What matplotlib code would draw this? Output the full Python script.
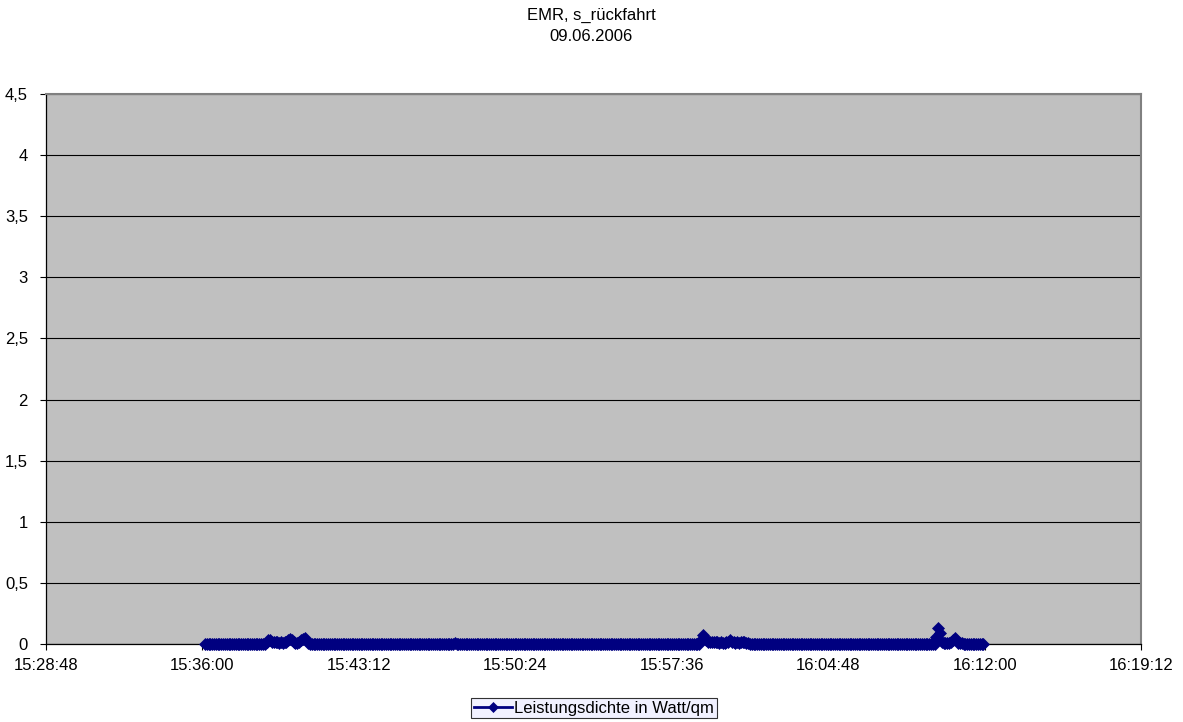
import numpy as np
import matplotlib
matplotlib.use("Agg")
import matplotlib.pyplot as plt
from matplotlib.ticker import FuncFormatter

plt.rcParams['font.family'] = ['Liberation Sans', 'DejaVu Sans']

# readings every 5 s, starting 15:36:07 (one row = one minute)
start_time = "15:36:07"
step_s = 5
leistung = [
    0, 0, 0, 0, 0, 0, 0, 0, 0, 0, 0, 0,                                      # 15:36
    0, 0, 0, 0, 0, 0, 0, 0, 0, 0, 0, 0,                                      # 15:37
    0, 0, 0, 0, 0, 0, 0, 0, 0, 0, 0.02, 0.03,                                # 15:38
    0.03, 0.02, 0.02, 0.02, 0.015, 0.01, 0.015, 0.01, 0.02, 0.02, 0.03, 0.04,  # 15:39
    0.03, 0.02, 0.01, 0.01, 0.02, 0.03, 0.04, 0.05, 0.03, 0.01, 0, 0,        # 15:40
    0, 0, 0, 0, 0, 0, 0, 0, 0, 0, 0, 0,                                      # 15:41
    0, 0, 0, 0, 0, 0, 0, 0, 0, 0, 0, 0,                                      # 15:42
    0, 0, 0, 0, 0, 0, 0, 0, 0, 0, 0, 0,                                      # 15:43
    0, 0, 0, 0, 0, 0, 0, 0, 0, 0, 0, 0,                                      # 15:44
    0, 0, 0, 0, 0, 0, 0, 0, 0, 0, 0, 0,                                      # 15:45
    0, 0, 0, 0, 0, 0, 0, 0, 0, 0, 0, 0,                                      # 15:46
    0, 0, 0, 0, 0, 0, 0.005, 0, 0, 0, 0, 0,                                  # 15:47
    0, 0, 0, 0, 0, 0, 0, 0, 0, 0, 0, 0,                                      # 15:48
    0, 0, 0, 0, 0, 0, 0, 0, 0, 0, 0, 0,                                      # 15:49
    0, 0, 0, 0, 0, 0, 0, 0, 0, 0, 0, 0,                                      # 15:50
    0, 0, 0, 0, 0, 0, 0, 0, 0, 0, 0, 0,                                      # 15:51
    0, 0, 0, 0, 0, 0, 0, 0, 0, 0, 0, 0,                                      # 15:52
    0, 0, 0, 0, 0, 0, 0, 0, 0, 0, 0, 0,                                      # 15:53
    0, 0, 0, 0, 0, 0, 0, 0, 0, 0, 0, 0,                                      # 15:54
    0, 0, 0, 0, 0, 0, 0, 0, 0, 0, 0, 0,                                      # 15:55
    0, 0, 0, 0, 0, 0, 0, 0, 0, 0, 0, 0,                                      # 15:56
    0, 0, 0, 0, 0, 0, 0, 0, 0, 0, 0, 0,                                      # 15:57
    0, 0, 0, 0, 0, 0, 0, 0, 0, 0, 0.03, 0.07,                                # 15:58
    0.05, 0.03, 0.02, 0.015, 0.02, 0.015, 0.02, 0.015, 0.01, 0.015, 0.01, 0.01,  # 15:59
    0.015, 0.02, 0.03, 0.02, 0.015, 0.01, 0.015, 0.01, 0.015, 0.02, 0.02, 0.01,  # 16:00
    0.005, 0, 0, 0, 0, 0, 0, 0, 0, 0, 0, 0,                                  # 16:01
    0, 0, 0, 0, 0, 0, 0, 0, 0, 0, 0, 0,                                      # 16:02
    0, 0, 0, 0, 0, 0, 0, 0, 0, 0, 0, 0,                                      # 16:03
    0, 0, 0, 0, 0, 0, 0, 0, 0, 0, 0, 0,                                      # 16:04
    0, 0, 0, 0, 0, 0, 0, 0, 0, 0, 0, 0,                                      # 16:05
    0, 0, 0, 0, 0, 0, 0, 0, 0, 0, 0, 0,                                      # 16:06
    0, 0, 0, 0, 0, 0, 0, 0, 0, 0, 0, 0,                                      # 16:07
    0, 0, 0, 0, 0, 0, 0, 0, 0, 0, 0, 0,                                      # 16:08
    0, 0, 0, 0, 0, 0, 0, 0, 0.06, 0.13, 0.09, 0.02,                          # 16:09
    0.01, 0.01, 0.01, 0.01, 0.02, 0.03, 0.05, 0.03, 0.01, 0.01, 0.005, 0,    # 16:10
    0, 0, 0, 0, 0, 0, 0, 0, 0, 0, 0,                                         # 16:11
]

x_start = "15:28:48"
x_end = "16:19:12"
x_step_s = 432  # 7:12
y_ticks = [0, 0.5, 1, 1.5, 2, 2.5, 3, 3.5, 4, 4.5]

title = "EMR, s_rückfahrt\n09.06.2006"
legend_label = "Leistungsdichte in Watt/qm"


def to_sec(s):
    h, m, sec = [int(v) for v in s.split(":")]
    return h * 3600 + m * 60 + sec


def fmt_time(v, pos=None):
    v = int(round(v))
    return "%d:%02d:%02d" % (v // 3600, (v % 3600) // 60, v % 60)


t0 = to_sec(start_time)
times = [t0 + i * step_s for i in range(len(leistung))]

fig = plt.figure(figsize=(11.83, 7.22), dpi=100)
ax = fig.add_axes([46 / 1183, 1 - 644 / 722, (1141 - 46) / 1183, (644 - 94) / 722])
ax.set_facecolor('#C0C0C0')

ax.plot(times, leistung, color='#000080', lw=2, marker='D', markersize=6,
        markeredgewidth=0.5, label=legend_label, zorder=3, clip_on=False)

ax.set_xlim(to_sec(x_start), to_sec(x_end))
ax.set_ylim(0, 4.5)
ax.set_xticks(np.arange(to_sec(x_start), to_sec(x_end) + 1, x_step_s))
ax.xaxis.set_major_formatter(FuncFormatter(fmt_time))
ax.set_yticks(y_ticks)
ax.yaxis.set_major_formatter(FuncFormatter(lambda v, p: ("%g" % v).replace(".", ",")))

ax.grid(axis='y', color='black', lw=0.8)
ax.set_axisbelow(True)
ax.tick_params(direction='out', length=4, width=0.8, labelsize=12, pad=6)
ax.tick_params(axis='y', pad=9)

for side in ['top', 'right']:
    ax.spines[side].set_color('#808080')
    ax.spines[side].set_linewidth(1.5)
for side in ['left', 'bottom']:
    ax.spines[side].set_color('black')
    ax.spines[side].set_linewidth(0.9)

fig.text(0.5, 1 - 26 / 722, title, ha='center', va='center', fontsize=12, linespacing=1.45)

leg = fig.legend(loc='center', bbox_to_anchor=(594 / 1183, 1 - 708 / 722), fontsize=12,
                 frameon=True, fancybox=False, edgecolor='black', facecolor='#EEEEFF',
                 handlelength=2.3, borderpad=0.15, handletextpad=0.15, borderaxespad=0,
                 markerscale=0.85)
leg.get_frame().set_linewidth(0.8)

fig.savefig("out.png", dpi=100)
